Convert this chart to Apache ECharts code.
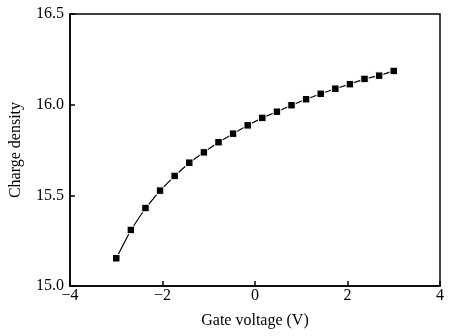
<!DOCTYPE html>
<html>
<head>
<meta charset="utf-8">
<script src="https://cdn.jsdelivr.net/npm/echarts@6/dist/echarts.min.js"></script>
<style>
  html, body { margin: 0; padding: 0; background: #fff; }
  #chart { width: 460px; height: 336px; }
</style>
</head>
<body>
<div id="chart"></div>
<script>
// Gate voltage sweep (V) and resulting charge density
const gateVoltage = [-3, -2.684, -2.368, -2.053, -1.737, -1.421, -1.105, -0.789, -0.474, -0.158,
                     0.158, 0.474, 0.789, 1.105, 1.421, 1.737, 2.053, 2.368, 2.684, 3];
const chargeDensity = [15.153, 15.309, 15.430, 15.526, 15.607, 15.680, 15.737, 15.793, 15.840, 15.886,
                       15.927, 15.961, 15.997, 16.030, 16.060, 16.088, 16.113, 16.142, 16.160, 16.186];
const xTicks = [-4, -2, 0, 2, 4];
const yTicks = [15.0, 15.5, 16.0, 16.5];

const serif = '"Liberation Serif", "DejaVu Serif", serif';
const chart = echarts.init(document.getElementById('chart'));

chart.setOption({
  animation: false,
  backgroundColor: '#fff',
  grid: {
    left: 70, right: 20, top: 14, bottom: 50,
    show: true, borderColor: '#000', borderWidth: 1.5, backgroundColor: 'transparent'
  },
  xAxis: {
    type: 'value',
    min: xTicks[0], max: xTicks[xTicks.length - 1], interval: 2,
    name: 'Gate voltage (V)', nameLocation: 'middle', nameGap: 27,
    nameTextStyle: { fontFamily: serif, fontSize: 16, color: '#000' },
    axisLine: { onZero: false, lineStyle: { color: '#000', width: 1.5 } },
    axisTick: { inside: true, length: 5, lineStyle: { color: '#000', width: 1.5 } },
    axisLabel: {
      fontFamily: serif, fontSize: 16, color: '#000', margin: 2,
      formatter: v => (v < 0 ? '\u2212' + Math.abs(v) : String(v))
    },
    splitLine: { show: false }
  },
  yAxis: {
    type: 'value',
    min: yTicks[0], max: yTicks[yTicks.length - 1], interval: 0.5,
    name: 'Charge density', nameLocation: 'middle', nameGap: 46,
    nameTextStyle: { fontFamily: serif, fontSize: 16, color: '#000' },
    axisLine: { show: true, onZero: false, lineStyle: { color: '#000', width: 1.5 } },
    axisTick: { show: true, inside: true, length: 5, lineStyle: { color: '#000', width: 1.5 } },
    axisLabel: {
      fontFamily: serif, fontSize: 16, color: '#000', margin: 6,
      formatter: v => v.toFixed(1)
    },
    splitLine: { show: false }
  },
  series: [{
    type: 'line',
    data: gateVoltage.map((x, i) => [x, chargeDensity[i]]),
    symbol: 'rect',
    symbolSize: 7.5,
    lineStyle: { color: '#000', width: 1.2 },
    itemStyle: { color: '#000', borderColor: '#fff', borderWidth: 1 }
  }]
});
</script>
</body>
</html>
